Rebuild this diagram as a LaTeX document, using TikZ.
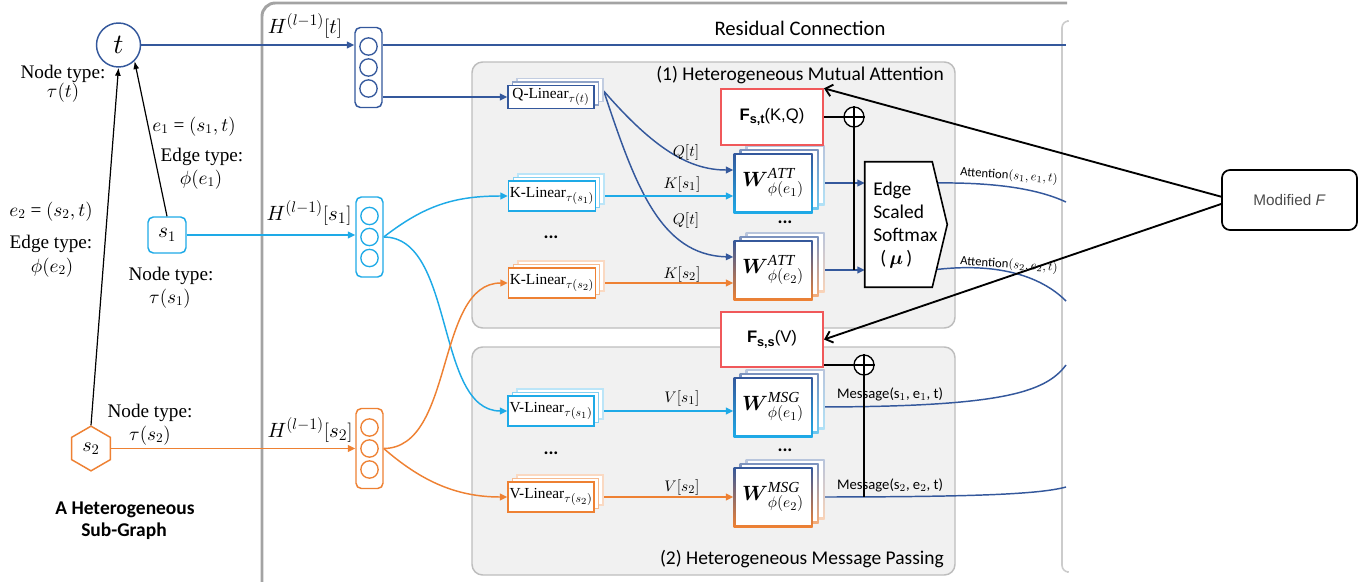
\documentclass[tikz,border=0pt]{standalone}
\usepackage{amsmath}
\usepackage{fontspec}
\setmainfont{Liberation Serif}
\setsansfont{Carlito}
\newfontfamily\arialf{Liberation Sans}
\usetikzlibrary{arrows.meta,shapes.geometric,calc}

% scalable Computer Modern math at any size
\DeclareFontShape{OML}{cmm}{m}{it}{<->cmmi10}{}
\DeclareFontShape{OML}{cmm}{b}{it}{<->cmmib10}{}
\DeclareFontShape{OMS}{cmsy}{m}{n}{<->cmsy10}{}
\DeclareFontShape{OMS}{cmsy}{b}{n}{<->cmbsy10}{}
% larger sub/superscripts for the box labels
\DeclareMathSizes{11.5}{11.5}{8.8}{7}
\DeclareMathSizes{15.5}{15.5}{11.5}{9}

\definecolor{dblue}{HTML}{34589C}
\definecolor{cyanb}{HTML}{1EAAE7}
\definecolor{orng}{HTML}{EE8133}
\definecolor{redb}{HTML}{F0585A}
\definecolor{panelfill}{HTML}{F1F1F1}
\definecolor{panelline}{HTML}{BDBDBD}
\definecolor{framegray}{HTML}{A3A3A3}

\pgfdeclarelayer{panels}
\pgfdeclarelayer{wires}
\pgfsetlayers{panels,wires,main}

% stacked linear layer: name, x, y, colour, half height (px), label
\newcommand{\linstack}[6]{%
  \foreach \ii/\aa in {2/30,1/55}{
    \draw[#4!\aa, line width=1pt, fill=white]
      ({#2-43+4.5*\ii},{#3-#5-3.5*\ii}) rectangle ({#2+43+4.5*\ii},{#3+#5-3.5*\ii});
  }
  \node[linbox, draw=#4, minimum height={1.5pt*#5}] (#1) at (#2,#3) {#6};
}

% stacked weight matrix with two-tone border: name, x, y, lower colour, label
\newcommand{\wstack}[5]{%
  \foreach \ii/\aa in {2/35,1/65}{
    \shade[top color=dblue!\aa, bottom color=#4!\aa]
      ({#2-39.5+6*\ii},{#3-30-4*\ii}) rectangle ({#2+39.5+6*\ii},{#3+30-4*\ii});
    \fill[white] ({#2-37.5+6*\ii},{#3-28-4*\ii}) rectangle ({#2+37.5+6*\ii},{#3+28-4*\ii});
  }
  \shade[top color=dblue, bottom color=#4]
    ({#2-39.5},{#3-30}) rectangle ({#2+39.5},{#3+30});
  \fill[white] ({#2-37.5},{#3-28}) rectangle ({#2+37.5},{#3+28});
  \node[wlab] (#1) at (#2,#3) {#5};
}

% hidden-state vector: name, x, y, colour
\newcommand{\vecstack}[4]{%
  \node[vecbox, draw=#4] (#1) at (#2,#3) {};
  \foreach \jj/\dd in {a/-21,b/0,c/21}{
    \node[veccirc, draw=#4] (#1\jj) at (#2,{#3+\dd}) {};
  }
}

\begin{document}
\begin{tikzpicture}[x=0.75pt, y=-0.75pt,
  lab/.style={font=\fontsize{14.4}{16}\selectfont, anchor=base, inner sep=0pt},
  ttl/.style={font=\sffamily\fontsize{14.6}{17}\selectfont, inner sep=0pt},
  hlab/.style={font=\fontsize{15.5}{17}\selectfont, inner sep=0pt},
  wl/.style={font=\fontsize{11.5}{13}\selectfont, inner sep=0pt},
  linbox/.style={draw, line width=1.1pt, fill=white, minimum width=64.5pt, inner sep=1pt, font=\fontsize{11.5}{13}\selectfont},
  wlab/.style={minimum width=59.25pt, minimum height=45pt, inner sep=0pt, font=\fontsize{15.5}{17}\selectfont},
  vecbox/.style={draw, line width=1.1pt, rounded corners=4pt, fill=white, minimum width=20.25pt, minimum height=60pt, inner sep=0pt},
  veccirc/.style={circle, draw, line width=1pt, minimum size=13pt, inner sep=0pt},
  wire/.style={line width=1.1pt},
  arr/.style={wire, -{Triangle[length=5.5pt,width=5pt]}},
  earr/.style={line width=0.9pt, -{Latex[length=6pt,width=4.5pt]}},
  blk/.style={line width=1.5pt},
  farr/.style={line width=1.4pt, -{Straight Barb[length=5pt,width=9pt]}},
  fbox/.style={draw=redb, line width=1.5pt, fill=white, minimum width=76.5pt, minimum height=41.5pt, inner sep=0pt, font=\arialf\fontsize{12.5}{14}\selectfont},
  oplus/.style={circle, draw, line width=1pt, fill=white, minimum size=15pt, inner sep=0pt},
  ellip/.style={font=\sffamily\bfseries\fontsize{14}{16}\selectfont, inner sep=0pt},
  smxt/.style={font=\sffamily\fontsize{14.6}{17}\selectfont, anchor=base west, inner sep=0pt},
]
\useasboundingbox (0,0) rectangle (1372,582);

% frames and panels
\begin{pgfonlayer}{panels}
  \draw[framegray, line width=2.2pt, rounded corners=10pt] (262,600) -- (262,3) -- (1067,3);
  \draw[gray!40, line width=1.2pt, rounded corners=5pt] (1067,21) -- (1062,21) -- (1062,572) -- (1067,572);
  \draw[panelline, fill=panelfill, line width=1.1pt, rounded corners=8pt] (472,62) rectangle (955,328);
  \draw[panelline, fill=panelfill, line width=1.1pt, rounded corners=8pt] (472,347) rectangle (955,575);
\end{pgfonlayer}

% heterogeneous sub-graph
\node[circle, draw=dblue, line width=1.1pt, fill=white, minimum size=33pt, inner sep=0pt,
      font=\fontsize{21}{23}\selectfont] (t) at (118.5,45) {$t$};
\node[draw=cyanb, rounded corners=4pt, line width=1.1pt, fill=white, minimum width=28.5pt,
      minimum height=27pt, inner sep=0pt, font=\fontsize{16}{18}\selectfont] (s1) at (167,235) {$s_1$};
\node[regular polygon, regular polygon sides=6, shape border rotate=30, draw=orng, line width=1.1pt,
      fill=white, minimum size=33.5pt, inner sep=0pt, font=\fontsize{15}{17}\selectfont] (s2) at (91,448.5) {$s_2$};
\draw[earr] (s1.north) -- (t.south east);
\draw[earr] (s2.north) -- (t.south);

\node[lab] (nt1) at (63,78) {Node type:};
\node[lab] (nt2) at (63,97) {$\tau(t)$};
\node[lab] (e1a) at (194,131) {$e_1$ = $(s_1,t)$};
\node[lab] (e1b) at (202,161) {Edge type:};
\node[lab] (e1c) at (201,184) {$\phi(e_1)$};
\node[lab] (e2a) at (51,216) {$e_2$ = $(s_2,t)$};
\node[lab] (e2b) at (51,248) {Edge type:};
\node[lab] (e2c) at (52,272) {$\phi(e_2)$};
\node[lab] (ns1a) at (171,280) {Node type:};
\node[lab] (ns1b) at (170,303) {$\tau(s_1)$};
\node[lab] (ns2a) at (150,417) {Node type:};
\node[lab] (ns2b) at (150,440) {$\tau(s_2)$};
\node[font=\sffamily\bfseries\fontsize{14.6}{17}\selectfont, anchor=base, inner sep=0pt] (sg1) at (125,514) {A Heterogeneous};
\node[font=\sffamily\bfseries\fontsize{14.6}{17}\selectfont, anchor=base, inner sep=0pt] (sg2) at (124,536) {Sub-Graph};

% hidden states of the previous layer
\vecstack{vt}{368.5}{67.5}{dblue}
\vecstack{vs1}{369.5}{237}{cyanb}
\vecstack{vs2}{369.5}{448.5}{orng}
\node[hlab] (ht) at (305,26) {$H^{(l-1)}[t]$};
\node[hlab] (hs1) at (309,213) {$H^{(l-1)}[s_1]$};
\node[hlab] (hs2) at (310,430) {$H^{(l-1)}[s_2]$};
\coordinate (res) at (1066,45);
\node[font=\sffamily\fontsize{15.5}{18}\selectfont, inner sep=0pt] (resl) at (800,28) {Residual Connection};

% panel titles
\node[ttl, anchor=east] (ttlA) at (944,75) {(1) Heterogeneous Mutual Attention};
\node[ttl, anchor=east] (ttlB) at (944,559) {(2) Heterogeneous Message Passing};

% type-specific linear projections
\linstack{Q}{551}{97}{dblue}{11.5}{Q-Linear$_{\tau(t)}$}
\linstack{K1}{552}{196}{cyanb}{15}{K-Linear$_{\tau(s_1)}$}
\linstack{K2}{552}{283}{orng}{15}{K-Linear$_{\tau(s_2)}$}
\linstack{V1}{551}{411}{cyanb}{15}{V-Linear$_{\tau(s_1)}$}
\linstack{V2}{551}{497}{orng}{15}{V-Linear$_{\tau(s_2)}$}
\node[ellip] (d1) at (551,237) {...};
\node[ellip] (d3) at (551,453) {...};

% edge-type weight matrices
\wstack{WA1}{773}{183}{cyanb}{$\boldsymbol{W}^{\mathit{ATT}}_{\phi(e_1)}$}
\wstack{WA2}{773}{270}{orng}{$\boldsymbol{W}^{\mathit{ATT}}_{\phi(e_2)}$}
\wstack{WM1}{773}{407}{cyanb}{$\boldsymbol{W}^{\mathit{MSG}}_{\phi(e_1)}$}
\wstack{WM2}{773}{497}{orng}{$\boldsymbol{W}^{\mathit{MSG}}_{\phi(e_2)}$}
\node[ellip] (d2) at (785,222) {...};
\node[ellip] (d4) at (785,450) {...};

% wire labels
\node[wl] (lq1) at (686,152) {$Q[t]$};
\node[wl] (lk1) at (682,184) {$K[s_1]$};
\node[wl] (lq2) at (686,220) {$Q[t]$};
\node[wl] (lk2) at (682,274) {$K[s_2]$};
\node[wl] (lv1) at (682,398) {$V[s_1]$};
\node[wl] (lv2) at (682,487) {$V[s_2]$};

% edge scaled softmax
\node[minimum width=50.25pt, minimum height=93.75pt, inner sep=0pt] (smx) at (898.5,224.5) {};
\draw[line width=1.2pt, fill=white] (smx.north west) -- (smx.north east) -- ([xshift=11.25pt]smx.east)
  -- (smx.south east) -- (smx.south west) -- cycle;
\node[smxt] (sm1) at (873,195) {Edge};
\node[smxt] (sm2) at (873,218) {Scaled};
\node[smxt] (sm3) at (873,241) {Softmax};
\node[smxt] (sm4) at (880,264) {(\,$\boldsymbol{\mu}$\,)};

% modifier terms
\node[fbox] (Fst) at (772,117) {\textbf{F}\raisebox{-2.8pt}{\fontsize{9.5}{10}\selectfont\textbf{s,t}}(K,Q)};
\node[fbox] (Fss) at (772,339.5) {\textbf{F}\raisebox{-2.8pt}{\fontsize{9.5}{10}\selectfont\textbf{s,s}}(V)};
\node[oplus] (p1) at (854,117) {};
\node[oplus] (p2) at (864,365) {};
\draw[line width=1pt] (p1.north) -- (p1.south) (p1.west) -- (p1.east);
\draw[line width=1pt] (p2.north) -- (p2.south) (p2.west) -- (p2.east);
\draw[blk] (Fst.east) -- (p1.west);
\draw[blk] (p1.south) -- (p1.south |- WA2.east);
\draw[blk] (p2.west -| Fss.east) -- (p2.west);
\draw[blk] (p2.south) -- (p2.south |- WM2.east);

\node[draw, line width=1.3pt, rounded corners=6pt, minimum width=101.25pt, minimum height=45pt,
      font=\arialf\fontsize{11.5}{13}\selectfont, text=black!70] (mf) at (1289.5,200) {Modified \textit{F}};
\draw[farr] ([yshift=2.5pt]mf.west) -- (Fst.north east);
\draw[farr] ([yshift=-3pt]mf.west) -- (Fss.east);

% outputs
\coordinate (att1) at (1066,202);
\coordinate (att2) at (1066,301);
\coordinate (msg1) at (1066,365);
\coordinate (msg2) at (1066,487);
\node[font=\sffamily\fontsize{9.5}{11}\selectfont, rotate=-4, inner sep=0pt] (al1) at (1009,176) {Attention$(s_1,e_1,t)$};
\node[font=\sffamily\fontsize{9.5}{11}\selectfont, rotate=-4, inner sep=0pt] (al2) at (1009,265) {Attention$(s_2,e_2,t)$};
\node[font=\sffamily\fontsize{11}{13}\selectfont, inner sep=0pt] (ml1) at (890,394) {Message(s$_1$, e$_1$, t)};
\node[font=\sffamily\fontsize{11}{13}\selectfont, inner sep=0pt] (ml2) at (890,485) {Message(s$_2$, e$_2$, t)};

% connectors
\begin{pgfonlayer}{wires}
  \draw[arr,dblue] (t.east) -- (t.east -| vt.west);
  \draw[wire,dblue] (vt.east |- t.east) -- (res);
  \draw[arr,dblue] (vt.east |- Q.west) -- (Q.west);
  \draw[arr,cyanb] (s1.east) -- (s1.east -| vs1.west);
  \draw[arr,orng] (s2.east) -- (s2.east -| vs2.west);
  \draw[arr,cyanb] (vs1.east) .. controls (425,205) and (455,196) .. (K1.west);
  \draw[arr,cyanb] (vs1.east) .. controls (455,237) and (435,411) .. (V1.west);
  \draw[arr,orng] (vs2.east) .. controls (455,448) and (435,283) .. (K2.west);
  \draw[arr,orng] (vs2.east) .. controls (420,480) and (455,497) .. (V2.west);
  \draw[arr,dblue] ([xshift=6.75pt,yshift=4.5pt]Q.east) .. controls (655,150) and (690,170) .. ([yshift=9.75pt]WA1.west);
  \draw[arr,dblue] ([xshift=6.75pt,yshift=4.5pt]Q.east) .. controls (635,185) and (660,255) .. ([yshift=9.75pt]WA2.west);
  \draw[arr,cyanb] (K1.east) -- (K1.east -| WA1.west);
  \draw[arr,orng] (K2.east) -- (K2.east -| WA2.west);
  \draw[arr,cyanb] (V1.east) -- (V1.east -| WM1.west);
  \draw[arr,orng] (V2.east) -- (V2.east -| WM2.west);
  \draw[arr,dblue] (WA1.east) -- (WA1.east -| smx.west);
  \draw[arr,dblue] (WA2.east) -- (WA2.east -| smx.west);
  \draw[wire,dblue] (smx.east |- WA1.east) .. controls (1000,182) and (1040,190) .. (att1);
  \draw[wire,dblue] (smx.east |- WA2.east) .. controls (995,262) and (1040,275) .. (att2);
  \draw[wire,dblue] (WM1.east) .. controls (1000,407) and (1045,393) .. (msg1);
  \draw[wire,dblue] (WM2.east) .. controls (980,497) and (1040,494) .. (msg2);
\end{pgfonlayer}
\end{tikzpicture}
\end{document}
